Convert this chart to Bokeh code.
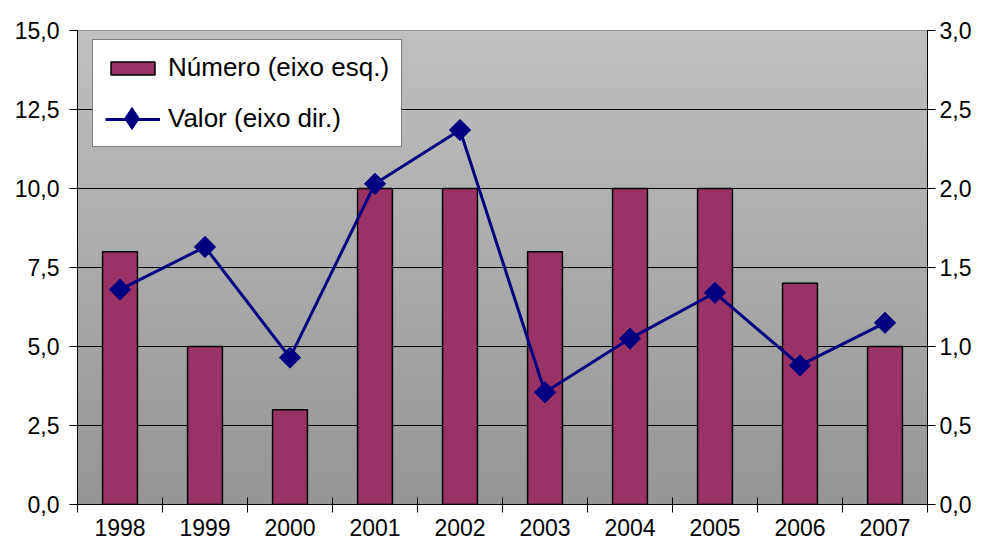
import numpy as np
from bokeh.plotting import figure
from bokeh.models import Range1d, LinearAxis, FixedTicker, Legend, LegendItem
from bokeh.embed import file_html
from bokeh.resources import INLINE

years = ["1998", "1999", "2000", "2001", "2002", "2003", "2004", "2005", "2006", "2007"]
numero = [8, 5, 3, 10, 10, 8, 10, 10, 7, 5]
valor = [1.36, 1.63, 0.93, 2.03, 2.37, 0.71, 1.05, 1.34, 0.88, 1.15]
left_ticks = [0, 2.5, 5, 7.5, 10, 12.5, 15]
left_tick_labels = ["0,0", "2,5", "5,0", "7,5", "10,0", "12,5", "15,0"]
right_ticks = [0, 0.5, 1.0, 1.5, 2.0, 2.5, 3.0]
right_tick_labels = ["0,0", "0,5", "1,0", "1,5", "2,0", "2,5", "3,0"]

FONT = "Liberation Sans"
n = len(years)
xc = [i + 0.5 for i in range(n)]
bounds = list(range(n + 1))

p = figure(width=974, height=540, x_range=Range1d(0, n), y_range=Range1d(0, 15),
           output_backend="svg", toolbar_location=None,
           min_border_left=77, min_border_right=44, min_border_top=30, min_border_bottom=36)
p.extra_y_ranges = {"right": Range1d(0, 3)}
p.background_fill_color = "white"
p.border_fill_color = "white"
p.outline_line_color = "#808080"
p.outline_line_width = 1

# gradient background (lighter at top, darker at bottom)
rows = 200
shade = np.linspace(150, 192, rows).astype(np.uint32)
img = np.zeros((rows, 1), dtype=np.uint32)
view = img.view(dtype=np.uint8).reshape((rows, 1, 4))
view[:, 0, 0] = shade
view[:, 0, 1] = shade
view[:, 0, 2] = shade
view[:, 0, 3] = 255
p.image_rgba(image=[img], x=0, y=0, dw=n, dh=15, level="image")

# grid
p.xgrid.visible = False
p.ygrid.ticker = FixedTicker(ticks=left_ticks)
p.ygrid.grid_line_color = "black"
p.ygrid.grid_line_width = 1

# left axis
ya = p.yaxis[0]
ya.ticker = FixedTicker(ticks=left_ticks)
ya.major_label_overrides = {t: l for t, l in zip(left_ticks, left_tick_labels)}
ya.major_tick_out = 8
ya.major_tick_in = 0
ya.minor_tick_line_color = None
ya.axis_line_color = "black"
ya.major_tick_line_color = "black"
ya.major_label_text_font = FONT
ya.major_label_text_font_size = "23px"
ya.major_label_text_color = "black"
ya.major_label_standoff = 10

# right axis
ra = LinearAxis(y_range_name="right")
ra.ticker = FixedTicker(ticks=right_ticks)
ra.major_label_overrides = {t: l for t, l in zip(right_ticks, right_tick_labels)}
ra.major_tick_out = 8
ra.major_tick_in = 0
ra.minor_tick_line_color = None
ra.axis_line_color = "black"
ra.major_tick_line_color = "black"
ra.major_label_text_font = FONT
ra.major_label_text_font_size = "23px"
ra.major_label_text_color = "black"
ra.major_label_standoff = 4
p.add_layout(ra, "right")

# bottom axis
xa = p.xaxis[0]
xa.ticker = FixedTicker(ticks=xc, minor_ticks=bounds)
xa.major_label_overrides = {t: l for t, l in zip(xc, years)}
xa.major_tick_in = 0
xa.major_tick_out = 0
xa.minor_tick_in = 7
xa.minor_tick_out = 8
xa.minor_tick_line_color = "black"
xa.axis_line_color = "black"
xa.major_label_text_font = FONT
xa.major_label_text_font_size = "23px"
xa.major_label_text_color = "black"
xa.major_label_standoff = 6

bars = p.vbar(x=xc, top=numero, width=0.41, fill_color="#993366",
              line_color="black", line_width=1.5)
ln = p.line(xc, valor, y_range_name="right", line_color="#000080", line_width=3)
# diamond-shaped key marker (drawn beneath the plot markers, used for the legend key)
mk_key = p.scatter(xc, valor, y_range_name="right", marker="diamond",
                   size=14, fill_color="#000080", line_color="#000080")
mk = p.scatter(xc, valor, y_range_name="right", marker="square", angle=np.pi / 4,
               size=15, fill_color="#000080", line_color="#000080")

legend = Legend(items=[LegendItem(label="Número (eixo esq.)", renderers=[bars]),
                       LegendItem(label="Valor (eixo dir.)", renderers=[ln])],
                location=(15, 357), margin=0)
legend.border_line_color = "black"
legend.border_line_width = 1
legend.background_fill_color = "white"
legend.background_fill_alpha = 1
legend.label_text_font = FONT
legend.label_text_font_size = "26px"
legend.label_text_color = "black"
legend.glyph_width = 55
legend.glyph_height = 16
legend.label_standoff = 8
legend.spacing = 20
legend.padding = 12
p.add_layout(legend)

key = Legend(items=[LegendItem(label=" ", renderers=[mk_key])],
             location=(27, 356), margin=0, padding=0, spacing=0,
             glyph_width=55, glyph_height=60, label_standoff=0,
             label_width=0, label_height=0, label_text_font_size="1px",
             border_line_color=None, background_fill_alpha=0)
p.add_layout(key)

open("out.html", "w").write(file_html(p, INLINE))
